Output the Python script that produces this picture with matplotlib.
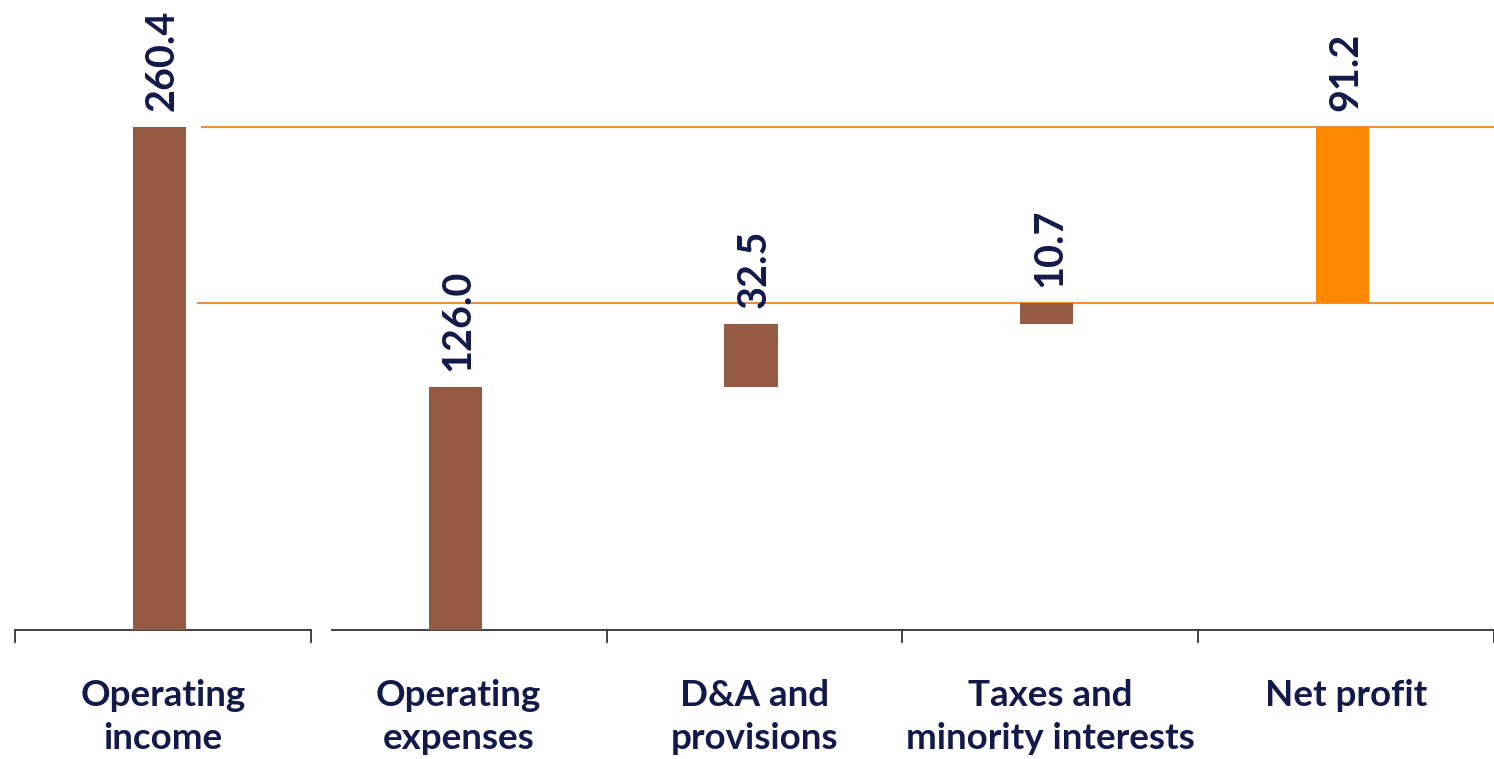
import matplotlib.pyplot as plt
from matplotlib.transforms import blended_transform_factory

categories = ['Operating\nincome', 'Operating\nexpenses', 'D&A and\nprovisions',
              'Taxes and\nminority interests', 'Net profit']
values = [260.4, 126.0, 32.5, 10.7, 91.2]
bottoms = [0, 0, 126.0, 158.5, 169.2]
value_labels = ['260.4', '126.0', '32.5', '10.7', '91.2']
ref_levels = [260.4, 169.2]

brown = '#955A43'
orange = '#FF8800'
line_orange = '#F2913A'
navy = '#131A4A'

plt.rcParams['font.family'] = ['Lato', 'DejaVu Sans']

fig = plt.figure(figsize=(14.94, 7.59), dpi=100)
ax = fig.add_axes([15 / 1494, 129 / 759, 1479 / 1494, 630 / 759])

x = [i - 0.012 for i in range(len(categories))]
colors = [brown, brown, brown, brown, orange]
ax.bar(x, values, bottom=bottoms, width=0.18, color=colors, zorder=3)

# reference lines
ax.hlines(ref_levels[0], 0.13, 4.5, color=line_orange, lw=1.5, zorder=2)
ax.hlines(ref_levels[1], 0.115, 4.5, color=line_orange, lw=1.5, zorder=2)

# value labels
for xi, v, b, lab in zip(x, values, bottoms, value_labels):
    ax.annotate(lab, (xi + 0.01, v + b), xytext=(0, 11.5), textcoords='offset points',
                rotation=90, ha='center', va='bottom', fontsize=28.5,
                fontweight='bold', color=navy, zorder=4)

# broken baseline with boundary ticks
ax.hlines(0, -0.5, 0.5, color='#333333', lw=1.3, clip_on=False)
ax.hlines(0, 0.567, 4.5, color='#333333', lw=1.3, clip_on=False)
trans = blended_transform_factory(ax.transData, ax.transAxes)
for bnd in [-0.5, 0.5, 1.5, 2.5, 3.5, 4.5]:
    ax.plot([bnd, bnd], [0, -12 / 630], color='#333333', lw=1.3,
            transform=trans, clip_on=False)

for i, cat in enumerate(categories):
    ax.text(i, -0.077, cat, transform=trans, ha='center', va='top',
            fontsize=26.5, fontweight='bold', color=navy, linespacing=1.4)

ax.set_xlim(-0.5, 4.5)
ax.set_ylim(0, 326.2)
ax.axis('off')

fig.savefig('out.png', dpi=100)
